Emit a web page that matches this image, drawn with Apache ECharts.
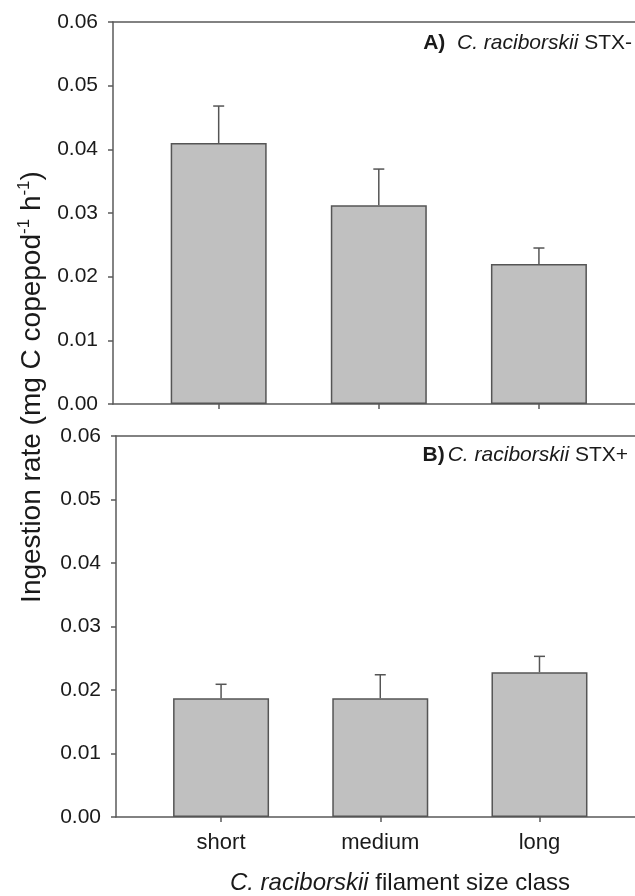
<!DOCTYPE html>
<html><head><meta charset="utf-8">
<script src="https://cdn.jsdelivr.net/npm/echarts@6.0.0/dist/echarts.min.js"></script>
<style>html,body{margin:0;padding:0;background:#fff}#c{width:635px;height:896px}</style>
</head><body><div id="c"></div>
<script>
const categories = ['short', 'medium', 'long'];
const stxNegMean = [0.0410, 0.0312, 0.0220];
const stxNegSE = [0.0058, 0.0057, 0.0025];
const stxPosMean = [0.0187, 0.0187, 0.0228];
const stxPosSE = [0.0022, 0.0037, 0.0025];
const panelLabels = ['{b|A)}  {i|C. raciborskii} STX-', '{b|B)}{j|C. raciborskii} STX+'];
const yTitle = 'Ingestion rate (mg C copepod{sup|-1} h{sup|-1})';
const xTitle = '{i|C. raciborskii} filament size class';

const FONT = 'Arial, "Liberation Sans", sans-serif';
const AX = '#5a5a5a';
const TXT = '#1a1a1a';
const catIdx = categories.map((c, i) => i);

const chart = echarts.init(document.getElementById('c'), null, {renderer: 'canvas'});

function xAxes(g, showLabels) {
  return [
    {
      type: 'value', gridIndex: g, min: -0.66, max: 2.6, position: 'bottom',
      axisLine: {show: true, onZero: false, lineStyle: {color: AX, width: 1.5}},
      axisTick: {show: true, customValues: catIdx, length: 5, lineStyle: {color: AX, width: 1.5}},
      axisLabel: {show: showLabels, customValues: catIdx, formatter: v => categories[Math.round(v)] || '',
        fontSize: 22, color: TXT, fontFamily: FONT, margin: 15},
      splitLine: {show: false}
    },
    {
      type: 'value', gridIndex: g, min: -0.66, max: 2.6, position: 'top',
      axisLine: {show: true, onZero: false, lineStyle: {color: AX, width: 1.5}},
      axisTick: {show: false}, axisLabel: {show: false}, splitLine: {show: false}
    }
  ];
}
function yAxis(g) {
  return {
    type: 'value', gridIndex: g, min: 0, max: 0.06, interval: 0.01,
    axisLine: {show: true, onZero: false, lineStyle: {color: AX, width: 1.5}},
    axisTick: {show: true, length: 5, lineStyle: {color: AX, width: 1.5}},
    axisLabel: {formatter: v => v.toFixed(2), fontSize: 21, color: TXT, fontFamily: FONT, margin: 15},
    splitLine: {show: false}
  };
}
function barSeries(xi, yi, means) {
  return {
    type: 'bar', xAxisIndex: xi, yAxisIndex: yi, barWidth: 96,
    data: means.map((m, i) => [i, m]),
    itemStyle: {color: '#c0c0c0', borderColor: '#555', borderWidth: 1.5},
    silent: true
  };
}
function errSeries(xi, yi, means, se) {
  return {
    type: 'custom', xAxisIndex: xi, yAxisIndex: yi, z: 3,
    data: means.map((m, i) => [i, m, m + se[i]]),
    encode: {x: 0, y: [1, 2]},
    renderItem: function (params, api) {
      const x = api.value(0), m = api.value(1), u = api.value(2);
      const p0 = api.coord([x, m]), p1 = api.coord([x, u]);
      const hw = 5.5;
      return {type: 'group', children: [
        {type: 'line', shape: {x1: p0[0], y1: p0[1], x2: p1[0], y2: p1[1]}, style: {stroke: '#555', lineWidth: 1.5}},
        {type: 'line', shape: {x1: p1[0] - hw, y1: p1[1], x2: p1[0] + hw, y2: p1[1]}, style: {stroke: '#555', lineWidth: 1.5}}
      ]};
    }
  };
}

const richPanel = {
  b: {fontWeight: 'bold', fontSize: 21, fontFamily: FONT, fill: TXT},
  i: {fontStyle: 'italic', fontSize: 21, fontFamily: FONT, fill: TXT},
  j: {fontStyle: 'italic', fontSize: 21, fontFamily: FONT, fill: TXT, padding: [0, 0, 0, 3]}
};

chart.setOption({
  animation: false,
  backgroundColor: '#fff',
  grid: [
    {left: 113, top: 22, right: 0, height: 382},
    {left: 116, top: 436, right: 0, height: 381}
  ],
  xAxis: [...xAxes(0, false), ...xAxes(1, true)],
  yAxis: [yAxis(0), yAxis(1)],
  series: [
    barSeries(0, 0, stxNegMean),
    errSeries(0, 0, stxNegMean, stxNegSE),
    barSeries(2, 1, stxPosMean),
    errSeries(2, 1, stxPosMean, stxPosSE)
  ],
  graphic: [
    {type: 'text', x: 632, y: 43, style: {text: panelLabels[0], fontSize: 21, fontFamily: FONT, fill: TXT, align: 'right', verticalAlign: 'middle', rich: richPanel}},
    {type: 'text', x: 628, y: 455, style: {text: panelLabels[1], fontSize: 21, fontFamily: FONT, fill: TXT, align: 'right', verticalAlign: 'middle', rich: richPanel}},
    {type: 'text', x: 32, y: 387, rotation: Math.PI / 2,
      style: {text: yTitle, fontSize: 28, fontFamily: FONT, fill: TXT, align: 'center', verticalAlign: 'middle',
        rich: {sup: {fontSize: 17, fontFamily: FONT, fill: TXT, verticalAlign: 'top', lineHeight: 32}}}},
    {type: 'text', x: 400, y: 883,
      style: {text: xTitle, fontSize: 24, fontFamily: FONT, fill: TXT, align: 'center', verticalAlign: 'middle',
        rich: {i: {fontStyle: 'italic', fontSize: 24, fontFamily: FONT, fill: TXT}}}}
  ]
});
</script>
</body></html>
